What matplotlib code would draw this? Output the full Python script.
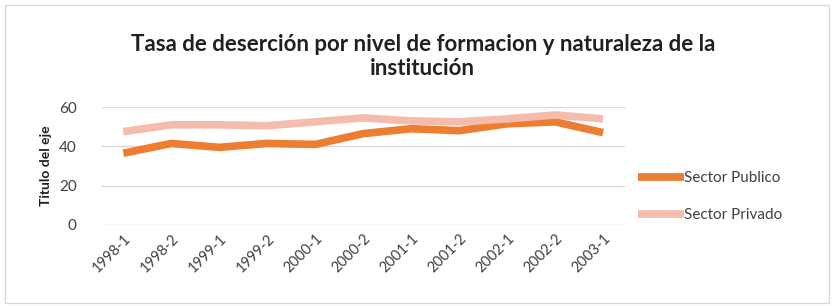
import numpy as np
import matplotlib.pyplot as plt
from matplotlib.patches import Rectangle

# periodos y tasas de desercion
periodos = ['1998-1', '1998-2', '1999-1', '1999-2', '2000-1', '2000-2',
            '2001-1', '2001-2', '2002-1', '2002-2', '2003-1']
publico = [36.5, 41.5, 39.5, 41.5, 41.0, 46.5, 49.0, 48.0, 51.5, 52.5, 47.0]
privado = [47.5, 51.0, 51.0, 50.5, 52.5, 54.5, 53.0, 52.5, 54.0, 56.0, 54.0]

plt.rcParams['font.family'] = ['Lato', 'DejaVu Sans']

fig = plt.figure(figsize=(8.34, 3.06), dpi=100)
fig.patches.append(Rectangle((0.006, 0.01), 0.988, 0.975, transform=fig.transFigure,
                             fill=False, edgecolor='#d9d9d9', linewidth=1))

ax = fig.add_axes([0.122, 0.265, 0.627, 0.385])
x = np.arange(len(periodos))
ax.plot(x, publico, color='#ED7D31', lw=5.5, solid_capstyle='butt',
        solid_joinstyle='round', label='Sector Publico')
ax.plot(x, privado, color='#F5BCAE', lw=5.5, solid_capstyle='butt',
        solid_joinstyle='round', label='Sector Privado')

ax.set_ylim(0, 60)
ax.set_yticks([0, 20, 40, 60])
ax.set_xlim(-0.45, len(periodos) - 0.55)
ax.set_xticks(x)
ax.set_xticklabels(periodos, rotation=45, ha='right', rotation_mode='anchor',
                   fontsize=10.5, color='#404040')
ax.tick_params(axis='y', labelsize=11, colors='#404040', length=0, pad=18)
ax.tick_params(axis='x', length=0, pad=5)
ax.grid(axis='y', color='#d9d9d9', lw=1)
ax.set_axisbelow(True)
for s in ax.spines.values():
    s.set_visible(False)
ax.set_ylabel('Titulo del eje', fontsize=10, fontweight='bold', color='#202020', labelpad=5)

fig.text(0.507, 0.815, 'Tasa de deserción por nivel de formacion y naturaleza de la\ninstitución',
         ha='center', va='center', fontsize=16, fontweight='bold', color='#202020',
         linespacing=1.15)

ax.legend(loc='center left', bbox_to_anchor=(1.0, 0.24), frameon=False, fontsize=11,
          handlelength=3.0, handletextpad=0.0, labelspacing=1.5, labelcolor='#404040')

fig.savefig('out.png', dpi=100)
